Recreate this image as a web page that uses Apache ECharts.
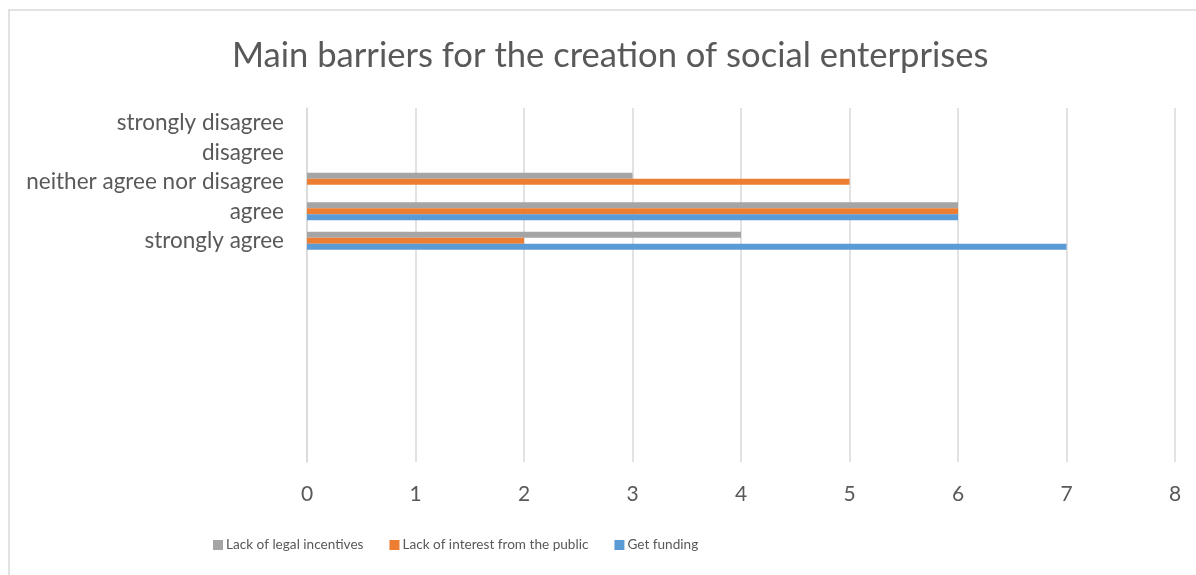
<!DOCTYPE html>
<html>
<head>
<meta charset="utf-8">
<script src="https://cdn.jsdelivr.net/npm/echarts@6/dist/echarts.min.js"></script>
<style>
  html, body { margin: 0; padding: 0; background: #fff; }
  #main { width: 1196px; height: 575px; }
</style>
</head>
<body>
<div id="main"></div>
<script>
// categories from bottom to top; the blank ones are empty rows of the source table
var categories = [' ', '  ', '   ', '    ', '     ', '      ', '       ',
  'strongly agree', 'agree', 'neither agree nor disagree', 'disagree', 'strongly disagree'];
var getFunding = [null, null, null, null, null, null, null, 7, 6, null, null, null];
var lackInterest = [null, null, null, null, null, null, null, 2, 6, 5, null, null];
var lackLegal = [null, null, null, null, null, null, null, 4, 6, 3, null, null];
var xTicks = [0, 8, 1];

var font = 'Lato';
var grey = '#595959';

var main = document.getElementById('main');
var myChart = echarts.init(main);
var option = {
  animation: false,
  textStyle: { fontFamily: font },
  title: {
    text: 'Main barriers for the creation of social enterprises',
    left: 227,
    top: 33,
    textStyle: { fontFamily: font, fontWeight: 'normal', fontSize: 34.6, color: grey }
  },
  graphic: [{
    type: 'rect',
    shape: { x: 9, y: 10, width: 1200, height: 600 },
    style: { fill: 'none', stroke: '#d9d9d9', lineWidth: 1.5 },
    silent: true
  }],
  legend: {
    bottom: 18,
    left: 208,
    itemGap: 26,
    itemWidth: 10,
    itemHeight: 10,
    icon: 'rect',
    textStyle: { fontFamily: font, fontSize: 13.6, color: grey, padding: [0, 0, 0, -2] },
    data: ['Lack of legal incentives', 'Lack of interest from the public', 'Get funding']
  },
  grid: { left: 307, right: 21, top: 108, bottom: 113, containLabel: false },
  xAxis: {
    type: 'value',
    min: xTicks[0],
    max: xTicks[1],
    interval: xTicks[2],
    axisLine: { show: false },
    axisTick: { show: false },
    axisLabel: { fontFamily: font, fontSize: 21, color: grey, margin: 22 },
    splitLine: { lineStyle: { color: '#d9d9d9', width: 1.5 } }
  },
  yAxis: {
    type: 'category',
    data: categories,
    axisLine: { lineStyle: { color: '#d9d9d9', width: 1.5 } },
    axisTick: { show: false },
    axisLabel: { interval: 0, hideOverlap: false, fontFamily: font, fontSize: 22.5, color: grey, margin: 23 }
  },
  series: [
    { name: 'Lack of legal incentives', type: 'bar', data: lackLegal, barWidth: 6, barGap: '0%',
      itemStyle: { color: '#a5a5a5' } },
    { name: 'Lack of interest from the public', type: 'bar', data: lackInterest, barWidth: 6, barGap: '0%',
      itemStyle: { color: '#ed7d31' } },
    { name: 'Get funding', type: 'bar', data: getFunding, barWidth: 6, barGap: '0%',
      itemStyle: { color: '#5b9bd5' } }
  ]
};
myChart.setOption(option);
</script>
</body>
</html>
